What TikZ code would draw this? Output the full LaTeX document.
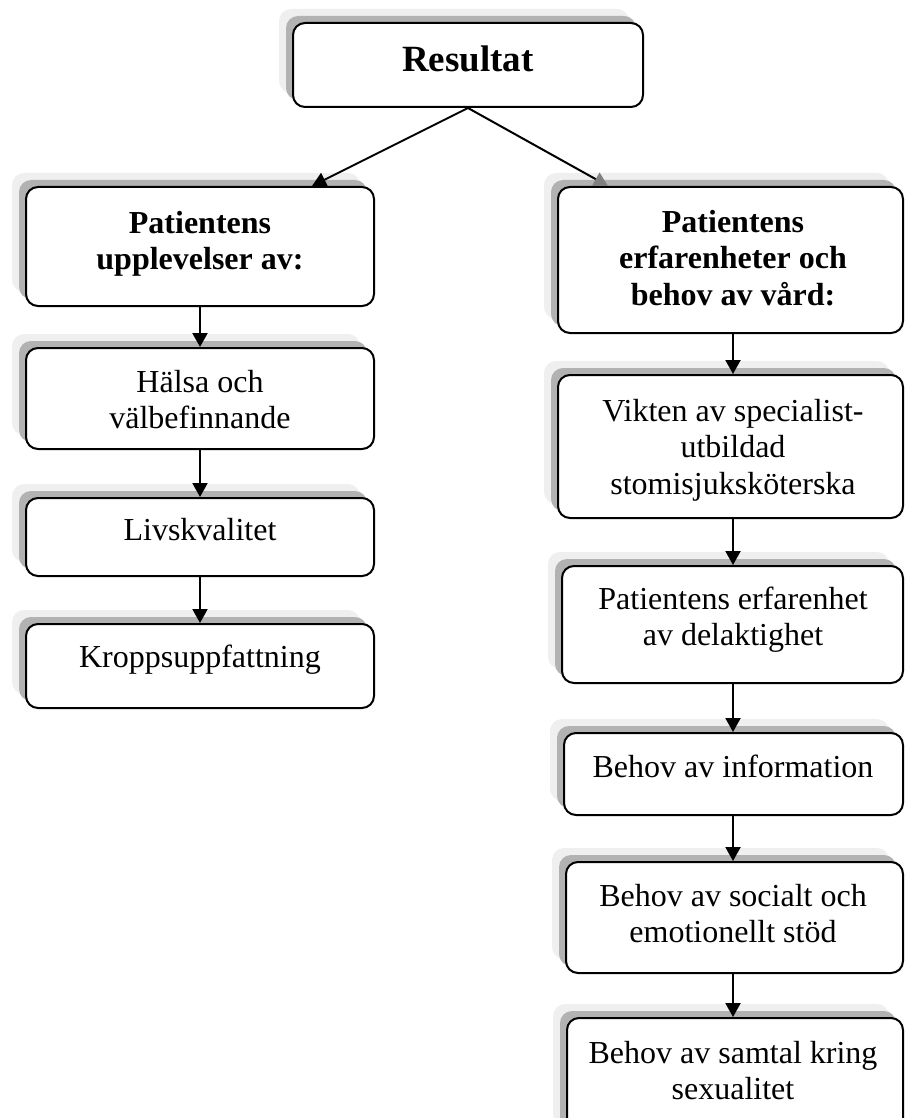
\documentclass[tikz,border=0pt]{standalone}
\usepackage{fontspec}
\setmainfont{Liberation Serif}
\usetikzlibrary{shadows,arrows.meta}
\definecolor{shdark}{HTML}{B2B2B2}
\definecolor{shlight}{HTML}{EFEFEF}
\definecolor{tipgray}{HTML}{808080}
\tikzset{
  box/.style={draw=black, line width=2pt, fill=white, rounded corners=12pt, inner sep=0pt,
    general shadow={draw=none, fill=shlight, shadow xshift=-14pt, shadow yshift=14pt},
    general shadow={draw=none, fill=shdark, shadow xshift=-7pt, shadow yshift=7pt}},
  txt/.style={anchor=north, inner sep=0pt, align=center, font=\fontsize{32}{36.8}\selectfont},
  btxt/.style={anchor=north, inner sep=0pt, align=center, font=\fontsize{32}{36.8}\selectfont\bfseries},
  arr/.style={line width=2pt, -{Triangle[width=15pt,length=14pt]}},
}
\begin{document}
\begin{tikzpicture}[x=1pt,y=-1pt]
\useasboundingbox (0,0) rectangle (905,1118);
\clip (0,0) rectangle (905,1118);
% boxes
\node[box, minimum width=350pt, minimum height=84pt] (res) at (468,65) {};
\node[box, minimum width=348pt, minimum height=119pt] (l1) at (200,246.5) {};
\node[box, minimum width=348pt, minimum height=101pt] (l2) at (200,398.5) {};
\node[box, minimum width=348pt, minimum height=78pt] (l3) at (200,537) {};
\node[box, minimum width=348pt, minimum height=84pt] (l4) at (200,666) {};
\node[box, minimum width=345pt, minimum height=146pt] (r1) at (730.5,260) {};
\node[box, minimum width=345pt, minimum height=143pt] (r2) at (730.5,446.5) {};
\node[box, minimum width=341pt, minimum height=117pt] (r3) at (732.5,624.5) {};
\node[box, minimum width=339pt, minimum height=82pt] (r4) at (733.5,774) {};
\node[box, minimum width=337pt, minimum height=111pt] (r5) at (734.5,917.5) {};
\node[box, minimum width=336pt, minimum height=122pt] (r6) at (735,1079) {};
% texts
\node[anchor=base, inner sep=0pt, font=\fontsize{37}{42}\selectfont\bfseries] (tres) at (468,72) {Resultat};
\node[btxt] (tl1) at (200,207.2) {\strut Patientens\\upplevelser av:};
\node[txt] (tl2) at (200,366.2) {\strut Hälsa och\\välbefinnande};
\node[txt] (tl3) at (200,514.2) {\strut Livskvalitet};
\node[txt] (tl4) at (200,641.2) {\strut Kroppsuppfattning};
\node[btxt] (tr1) at (733,206.2) {\strut Patientens\\erfarenheter och\\behov av vård:};
\node[txt] (tr2) at (733,395.2) {\strut Vikten av specialist-\\utbildad\\stomisjuksköterska};
\node[txt] (tr3) at (733,583.2) {\strut Patientens erfarenhet\\av delaktighet};
\node[txt] (tr4) at (733,751.2) {\strut Behov av information};
\node[txt] (tr5) at (733,880.2) {\strut Behov av socialt och\\emotionellt stöd};
\node[txt] (tr6) at (733,1037.2) {\strut Behov av samtal kring\\sexualitet};
% connectors
\coordinate (lt) at (312,187);
\coordinate (rt) at (608,187);
\coordinate (ax) at (733,0);
\draw[arr] (res.south) -- (l1.north -| lt);
\draw[line width=2pt, -{Triangle[width=15pt,length=14pt,color=tipgray]}] (res.south) -- (r1.north -| rt);
\draw[arr] (l1.south) -- (l2.north);
\draw[arr] (l2.south) -- (l3.north);
\draw[arr] (l3.south) -- (l4.north);
\draw[arr] (r1.south -| ax) -- (r2.north -| ax);
\draw[arr] (r2.south -| ax) -- (r3.north -| ax);
\draw[arr] (r3.south -| ax) -- (r4.north -| ax);
\draw[arr] (r4.south -| ax) -- (r5.north -| ax);
\draw[arr] (r5.south -| ax) -- (r6.north -| ax);
\end{tikzpicture}
\end{document}
